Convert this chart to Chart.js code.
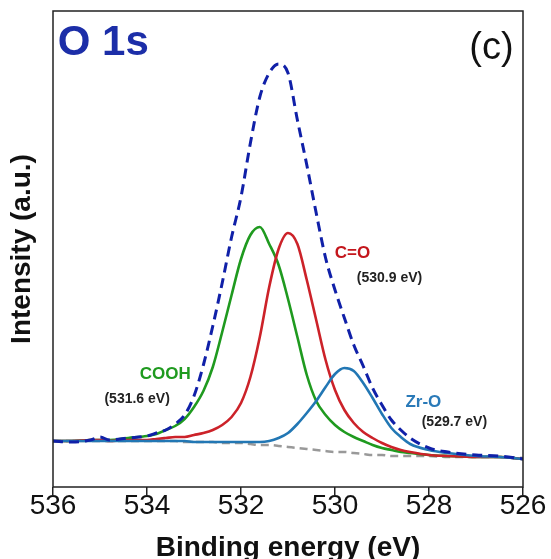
<!DOCTYPE html>
<html>
<head>
<meta charset="utf-8">
<script src="https://cdn.jsdelivr.net/npm/chart.js@4"></script>
<style>
  html, body { margin: 0; padding: 0; background: #fff; }
  canvas { display: block; }
</style>
</head>
<body>
<canvas id="chart_o1s" width="551" height="559"></canvas>
<script>
// binding energy grid (eV), shared by every curve
const energy = [536, 535.6, 535.2, 535.0, 534.8, 534.4, 534.0, 533.8, 533.6, 533.4,
  533.2, 533.0, 532.8, 532.6, 532.4, 532.2, 532.0, 531.8, 531.6, 531.4,
  531.2, 531.0, 530.8, 530.6, 530.4, 530.2, 530.0, 529.8, 529.6, 529.4,
  529.2, 529.0, 528.8, 528.6, 528.4, 528.0, 527.6, 527.0, 526.5, 526.0];

// intensities (a.u.)
const envelope = [46, 45, 47, 50, 47, 49, 51, 54, 57, 63, 72, 91, 122, 161, 204, 250, 290, 344, 390, 414,
  423, 414, 367, 322, 274, 229, 197, 169, 142, 121, 99, 82, 67, 57, 49, 39, 35, 32, 31, 28];
const cooh = [46, 46, 47, 47, 47, 49, 51, 53, 57, 61, 68, 80, 96, 120, 155, 192, 228, 252, 260, 243,
  222, 188, 150, 112, 86, 72, 62, 55, 50, 46, 42, 39, 37, 35, 34, 32, 31, 30, 30, 28];
const cdo = [46, 46, 47, 47, 46, 47, 47, 48, 49, 50, 50, 52, 54, 57, 62, 70, 84, 110, 150, 200,
  238, 254, 243, 207, 167, 127, 97, 77, 64, 55, 49, 44, 40, 37, 35, 32, 31, 30, 30, 28];
const zro = [46, 46, 46, 46, 46, 46, 46, 46, 46, 46, 46, 45, 45, 45, 45, 45, 45, 45, 45, 46,
  49, 54, 63, 74, 86, 100, 113, 119, 116, 104, 89, 73, 59, 50, 43, 37, 34, 31, 30, 28];
const background = [46, 46, 46, 46, 46, 46, 46, 46, 46, 46, 45, 45, 45, 45, 44, 44, 44, 43, 42, 42,
  41, 40, 39, 38, 37, 36, 35, 35, 34, 33, 32, 32, 31, 31, 31, 31, 30, 30, 30, 29];

const xTicks = [536, 534, 532, 530, 528, 526];

// text drawn on the plot, placed in data coordinates
const notes = [
  { text: 'O 1s', e: 534.93, i: 444, color: '#1c2ea8', font: 'bold 42px "Liberation Sans", Arial, sans-serif' },
  { text: '(c)', e: 526.67, i: 438, color: '#111', font: '38px "Liberation Sans", Arial, sans-serif' },
  { text: 'COOH', e: 533.61, i: 113, color: '#1f9a1f', font: 'bold 17px "Liberation Sans", Arial, sans-serif' },
  { text: '(531.6 eV)', e: 534.21, i: 88, color: '#222', font: 'bold 14px "Liberation Sans", Arial, sans-serif' },
  { text: 'C=O', e: 529.63, i: 234, color: '#c4161c', font: 'bold 17px "Liberation Sans", Arial, sans-serif' },
  { text: '(530.9 eV)', e: 528.84, i: 209, color: '#222', font: 'bold 14px "Liberation Sans", Arial, sans-serif' },
  { text: 'Zr-O', e: 528.12, i: 85, color: '#2a7ab8', font: 'bold 17px "Liberation Sans", Arial, sans-serif' },
  { text: '(529.7 eV)', e: 527.46, i: 65, color: '#222', font: 'bold 14px "Liberation Sans", Arial, sans-serif' }
];

function toPoints(values) {
  return energy.map((e, k) => ({ x: e, y: values[k] }));
}

const frameAndNotes = {
  id: 'frameAndNotes',
  afterDatasetsDraw(chart) {
    const ctx = chart.ctx;
    const a = chart.chartArea;
    const xs = chart.scales.x;
    const ys = chart.scales.y;
    ctx.save();
    ctx.strokeStyle = '#222';
    ctx.lineWidth = 1.5;
    ctx.strokeRect(a.left, a.top, a.right - a.left, a.bottom - a.top);
    ctx.textAlign = 'center';
    ctx.textBaseline = 'middle';
    notes.forEach(n => {
      ctx.font = n.font;
      ctx.fillStyle = n.color;
      ctx.fillText(n.text, xs.getPixelForValue(n.e), ys.getPixelForValue(n.i));
    });
    ctx.restore();
  }
};

const line = (label, values, color, order, extra) => Object.assign({
  label: label,
  data: toPoints(values),
  borderColor: color,
  borderWidth: 2.6,
  pointRadius: 0,
  fill: false,
  cubicInterpolationMode: 'monotone',
  order: order
}, extra || {});

new Chart(document.getElementById('chart_o1s'), {
  type: 'line',
  data: {
    datasets: [
      line('Envelope', envelope, '#1020a8', 0, { borderWidth: 3, borderDash: [10, 6] }),
      line('Zr-O', zro, '#2277b4', 1),
      line('C=O', cdo, '#cc2229', 2),
      line('COOH', cooh, '#1f9a1f', 3),
      line('Background', background, '#999999', 4, { borderWidth: 2.5, borderDash: [8, 5] })
    ]
  },
  options: {
    responsive: false,
    animation: false,
    layout: { padding: { top: 11, right: 28, left: 0, bottom: 0 } },
    plugins: { legend: { display: false }, tooltip: { enabled: false } },
    scales: {
      x: {
        type: 'linear',
        reverse: true,
        min: 526,
        max: 536,
        afterFit: (scale) => { scale.height = 72; },
        afterBuildTicks: (scale) => { scale.ticks = xTicks.map(v => ({ value: v })); },
        border: { display: false },
        grid: { drawOnChartArea: false, drawTicks: true, tickLength: 8, color: '#222', lineWidth: 1.5 },
        ticks: {
          padding: 1,
          color: '#111',
          font: { family: '"Liberation Sans", Arial, sans-serif', size: 28, lineHeight: 0.7 }
        },
        title: {
          display: true,
          text: 'Binding energy (eV)',
          color: '#111',
          padding: { top: 0, bottom: 0 },
          font: { family: '"Liberation Sans", Arial, sans-serif', size: 28, weight: 'bold', lineHeight: 0.8 }
        }
      },
      y: {
        min: 0,
        max: 476,
        afterFit: (scale) => { scale.width = 53; },
        border: { display: false },
        grid: { display: false },
        ticks: { display: false },
        title: {
          display: true,
          text: 'Intensity (a.u.)',
          color: '#111',
          padding: { top: 5, bottom: 0 },
          font: { family: '"Liberation Sans", Arial, sans-serif', size: 28, weight: 'bold' }
        }
      }
    }
  },
  plugins: [frameAndNotes]
});
</script>
</body>
</html>
